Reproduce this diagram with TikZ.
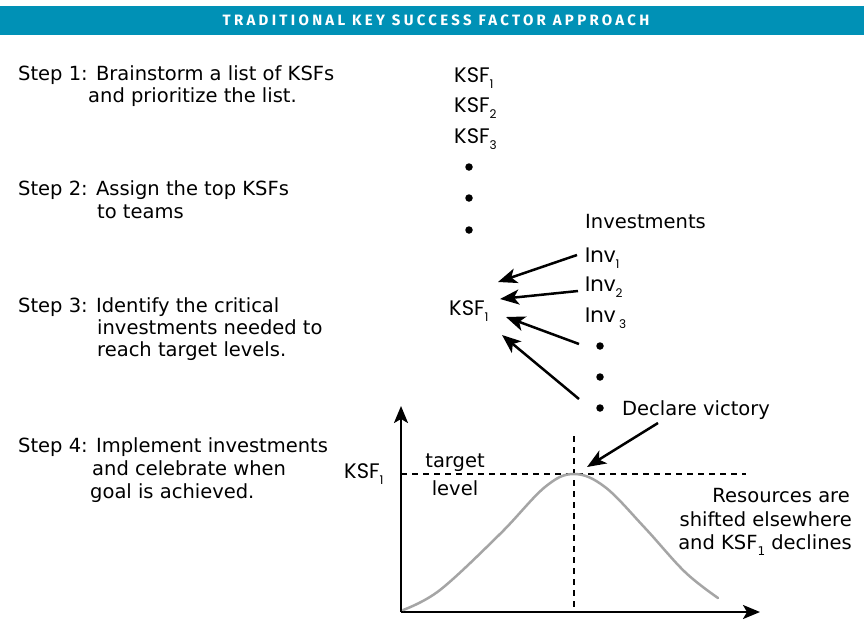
\documentclass[tikz,border=0pt]{standalone}
\usepackage{fontspec}
\setmainfont{DejaVu Sans}
\newfontfamily\geofont{Poppins}
\newfontfamily\titlefont[LetterSpace=22]{Fira Sans}
\usetikzlibrary{arrows.meta}
\definecolor{bannerblue}{RGB}{0,145,182}
\definecolor{curvegray}{RGB}{165,165,165}
\newcommand{\lowidx}[1]{\raisebox{-6pt}{\fontsize{12}{12}\selectfont #1}}
\begin{document}
\begin{tikzpicture}[x=1pt,y=-1pt,
  steptext/.style={font=\fontsize{19.5}{19.5}\selectfont, anchor=base west, inner sep=0pt},
  ksflabel/.style={font=\geofont\fontsize{21}{21}\selectfont, anchor=base west, inner sep=0pt},
  bigdot/.style={circle, fill=black, inner sep=0pt, minimum size=7.5pt},
  ptr/.style={line width=2.5pt, -{Stealth[length=19pt,width=15pt,inset=5pt]}},
  axisline/.style={line width=2.2pt, -{Stealth[length=17pt,width=14pt,inset=4pt]}},
  dashline/.style={line width=2.4pt, dash pattern=on 6pt off 5pt}]
\useasboundingbox (0,0) rectangle (864,630);
\fill[white] (0,0) rectangle (864,630);
% banner
\fill[bannerblue] (0,6) rectangle (864,35);
\node[text=white, font=\titlefont\bfseries\fontsize{15}{15}\selectfont, inner sep=0pt] (title) at (436,20) {TRADITIONAL KEY SUCCESS FACTOR APPROACH};
% steps
\node[steptext] (s1a) at (18,80) {Step 1: Brainstorm a list of KSFs};
\node[steptext] (s1b) at (88,102) {and prioritize the list.};
\node[steptext] (s2a) at (18,195) {Step 2: Assign the top KSFs};
\node[steptext] (s2b) at (97,218) {to teams};
\node[steptext] (s3a) at (18,312) {Step 3: Identify the critical};
\node[steptext] (s3b) at (97,334) {investments needed to};
\node[steptext] (s3c) at (97,356) {reach target levels.};
\node[steptext] (s4a) at (18,452) {Step 4: Implement investments};
\node[steptext] (s4b) at (92,475) {and celebrate when};
\node[steptext] (s4c) at (90,498) {goal is achieved.};
% KSF list
\node[ksflabel] (k1) at (454,82) {KSF\lowidx{1}};
\node[ksflabel] (k2) at (454,112) {KSF\lowidx{2}};
\node[ksflabel] (k3) at (454,143) {KSF\lowidx{3}};
\node[bigdot] (kd1) at (469,167) {};
\node[bigdot] (kd2) at (469,198) {};
\node[bigdot] (kd3) at (469,230) {};
% investments
\node[steptext] (inv) at (585,228) {Investments};
\node[ksflabel] (i1) at (585,262) {Inv\lowidx{1}};
\node[ksflabel] (i2) at (585,291) {Inv\lowidx{2}};
\node[ksflabel] (i3) at (585,322) {Inv\,\lowidx{3}};
\node[bigdot] (id1) at (600,346) {};
\node[bigdot] (id2) at (600,377) {};
\node[bigdot] (id3) at (600,408) {};
\node[steptext] (dv) at (622,415) {Declare victory};
\node[ksflabel] (kc) at (449,315) {KSF\lowidx{1}};
% arrows to KSF1
\coordinate (a1s) at (577,255); \coordinate (a1e) at (498,282);
\coordinate (a2s) at (578,291); \coordinate (a2e) at (500,299);
\coordinate (a3s) at (579,344); \coordinate (a3e) at (506,317);
\coordinate (a4s) at (579,399); \coordinate (a4e) at (502,335);
\draw[ptr] (a1s) -- (a1e);
\draw[ptr] (a2s) -- (a2e);
\draw[ptr] (a3s) -- (a3e);
\draw[ptr] (a4s) -- (a4e);
% graph
\coordinate (origin) at (401,612);
\coordinate (ytop) at (401,406);
\coordinate (xend) at (760,612);
\draw[axisline] (origin) -- (ytop);
\draw[axisline] (origin) -- (xend);
\coordinate (hs) at (401,474); \coordinate (he) at (746,474);
\coordinate (vs) at (574,436); \coordinate (ve) at (574,612);
\draw[dashline] (hs) -- (he);
\draw[dashline] (vs) -- (ve);
\draw[curvegray, line width=2.5pt, line cap=round] plot[smooth, tension=0.6] coordinates
  {(403,610) (440,590) (500,534) (545,487) (574,474) (605,487) (645,528) (685,572) (718,598)};
\node[ksflabel] (kg) at (344,478) {KSF\lowidx{1}};
\node[steptext, anchor=base] (tl1) at (455,467) {target};
\node[steptext, anchor=base] (tl2) at (455,495) {level};
\node[steptext, anchor=base east] (r1) at (850,502) {Resources are};
\node[steptext, anchor=base east] (r2) at (852,526) {shifted elsewhere};
\node[steptext, anchor=base east] (r3) at (852,549) {and KSF\lowidx{1} declines};
\coordinate (dvs) at (658,423); \coordinate (dve) at (587,467);
\draw[ptr] (dvs) -- (dve);
\end{tikzpicture}
\end{document}
